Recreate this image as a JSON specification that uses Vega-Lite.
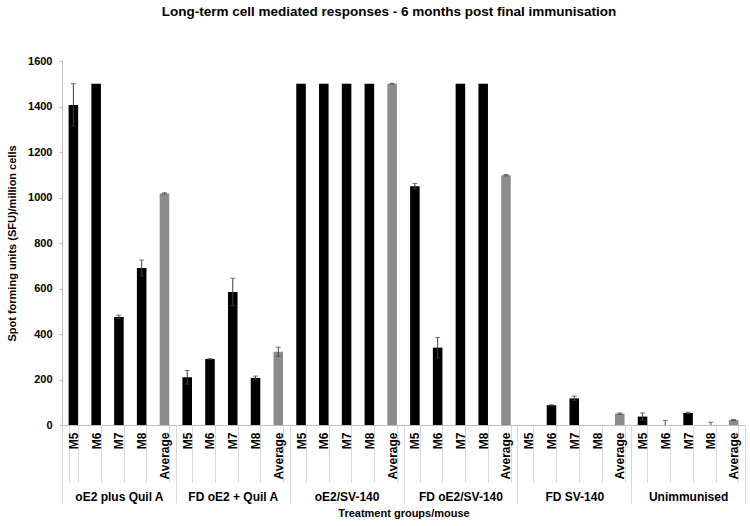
{
  "$schema": "https://vega.github.io/schema/vega-lite/v6.json",
  "width": 683,
  "height": 364,
  "padding": {"left": 6, "top": 4, "right": 5, "bottom": 4},
  "background": "white",
  "title": {
    "text": "Long-term cell mediated responses - 6 months post final immunisation",
    "font": "Liberation Sans",
    "fontSize": 13.5,
    "fontWeight": "bold",
    "color": "#000",
    "anchor": "middle",
    "frame": "bounds",
    "dx": 13,
    "offset": 37
  },
  "config": {
    "view": {"stroke": null},
    "font": "Liberation Sans",
    "axis": {"labelFont": "Liberation Sans", "titleFont": "Liberation Sans", "labelColor": "#000", "titleColor": "#000", "grid": false}
  },
  "data": {
    "values": [
      {"g": "oE2 plus Quil A", "m": "M5", "v": 1407, "lo": 1314, "hi": 1500},
      {"g": "oE2 plus Quil A", "m": "M6", "v": 1500, "lo": 1500, "hi": 1500},
      {"g": "oE2 plus Quil A", "m": "M7", "v": 475, "lo": 467, "hi": 483},
      {"g": "oE2 plus Quil A", "m": "M8", "v": 690, "lo": 655, "hi": 725},
      {"g": "oE2 plus Quil A", "m": "Average", "v": 1018, "lo": 1015, "hi": 1021},
      {"g": "FD oE2 + Quil A", "m": "M5", "v": 210, "lo": 180, "hi": 240},
      {"g": "FD oE2 + Quil A", "m": "M6", "v": 290, "lo": 288, "hi": 292},
      {"g": "FD oE2 + Quil A", "m": "M7", "v": 585, "lo": 525, "hi": 645},
      {"g": "FD oE2 + Quil A", "m": "M8", "v": 207, "lo": 199, "hi": 215},
      {"g": "FD oE2 + Quil A", "m": "Average", "v": 322, "lo": 302, "hi": 342},
      {"g": "oE2/SV-140", "m": "M5", "v": 1500, "lo": 1500, "hi": 1500},
      {"g": "oE2/SV-140", "m": "M6", "v": 1500, "lo": 1500, "hi": 1500},
      {"g": "oE2/SV-140", "m": "M7", "v": 1500, "lo": 1500, "hi": 1500},
      {"g": "oE2/SV-140", "m": "M8", "v": 1500, "lo": 1500, "hi": 1500},
      {"g": "oE2/SV-140", "m": "Average", "v": 1500, "lo": 1498, "hi": 1502},
      {"g": "FD oE2/SV-140", "m": "M5", "v": 1050, "lo": 1038, "hi": 1062},
      {"g": "FD oE2/SV-140", "m": "M6", "v": 340, "lo": 295, "hi": 385},
      {"g": "FD oE2/SV-140", "m": "M7", "v": 1500, "lo": 1500, "hi": 1500},
      {"g": "FD oE2/SV-140", "m": "M8", "v": 1500, "lo": 1500, "hi": 1500},
      {"g": "FD oE2/SV-140", "m": "Average", "v": 1098, "lo": 1095, "hi": 1101},
      {"g": "FD SV-140", "m": "M5", "v": 0, "lo": 0, "hi": 0},
      {"g": "FD SV-140", "m": "M6", "v": 87, "lo": 85, "hi": 89},
      {"g": "FD SV-140", "m": "M7", "v": 117, "lo": 107, "hi": 127},
      {"g": "FD SV-140", "m": "M8", "v": 0, "lo": 0, "hi": 0},
      {"g": "FD SV-140", "m": "Average", "v": 50, "lo": 47, "hi": 53},
      {"g": "Unimmunised", "m": "M5", "v": 37, "lo": 21, "hi": 53},
      {"g": "Unimmunised", "m": "M6", "v": 0, "lo": 0, "hi": 20},
      {"g": "Unimmunised", "m": "M7", "v": 53, "lo": 50, "hi": 56},
      {"g": "Unimmunised", "m": "M8", "v": 0, "lo": 0, "hi": 12},
      {"g": "Unimmunised", "m": "Average", "v": 22, "lo": 20, "hi": 24}
    ]
  },
  "transform": [{"calculate": "datum.g + '|' + datum.m", "as": "key"}],
  "encoding": {
    "y": {
      "type": "quantitative",
      "scale": {"domain": [0, 1600], "nice": false},
      "axis": {
        "values": [0, 200, 400, 600, 800, 1000, 1200, 1400, 1600],
        "format": "d",
        "title": "Spot forming units (SFU)/million cells",
        "titleFontSize": 11,
        "titleFontWeight": "bold",
        "titlePadding": 10,
        "labelFontSize": 11,
        "labelFontWeight": "bold",
        "domainColor": "#bfbfbf",
        "tickColor": "#bfbfbf",
        "tickSize": 3,
        "labelPadding": 7
      }
    }
  },
  "layer": [
    {
      "layer": [
        {
          "mark": {"type": "bar"},
          "encoding": {
            "x": {
              "field": "key", "type": "nominal", "sort": null,
              "scale": {"paddingInner": 0.58, "paddingOuter": 0.29},
              "axis": {
                "orient": "bottom",
                "title": null,
                "labelExpr": "split(datum.value, '|')[1]",
                "labelAngle": 270,
                "labelFontSize": 12,
                "labelFontWeight": "bold",
                "tickBand": "extent",
                "tickSize": 57,
                "tickColor": "#d9d9d9",
                "domainColor": "#bfbfbf",
                "labelPadding": -50
              }
            },
            "y": {"field": "v"},
            "color": {"condition": {"test": "datum.m === 'Average'", "value": "#8c8c8c"}, "value": "#000000"}
          }
        },
        {
          "transform": [{"filter": "datum.hi > datum.lo"}],
          "mark": {"type": "rule", "color": "#404040", "strokeWidth": 1},
          "encoding": {
            "x": {"field": "key", "type": "nominal", "sort": null},
            "y": {"field": "lo"},
            "y2": {"field": "hi"}
          }
        },
        {
          "transform": [{"filter": "datum.hi > datum.lo"}],
          "mark": {"type": "tick", "color": "#404040", "size": 5, "thickness": 1},
          "encoding": {
            "x": {"field": "key", "type": "nominal", "sort": null},
            "y": {"field": "hi"}
          }
        },
        {
          "transform": [{"filter": "datum.hi > datum.lo && datum.lo > 0"}],
          "mark": {"type": "tick", "color": "#404040", "size": 5, "thickness": 1},
          "encoding": {
            "x": {"field": "key", "type": "nominal", "sort": null},
            "y": {"field": "lo"}
          }
        }
      ]
    },
    {
      "mark": {"type": "point", "opacity": 0},
      "encoding": {
        "x": {
          "field": "g", "type": "nominal", "sort": null,
          "scale": {"type": "band", "paddingInner": 0, "paddingOuter": 0},
          "axis": {
            "orient": "bottom",
            "title": "Treatment groups/mouse",
            "titleFontSize": 11,
            "titleFontWeight": "bold",
            "titlePadding": 4,
            "labelAngle": 0,
            "labelFontSize": 12,
            "labelFontWeight": "bold",
            "tickBand": "extent",
            "tickSize": 78,
            "tickColor": "#d9d9d9",
            "domain": false,
            "labelPadding": -12
          }
        },
        "y": {"field": "v"}
      }
    }
  ],
  "resolve": {"scale": {"x": "independent"}}
}
